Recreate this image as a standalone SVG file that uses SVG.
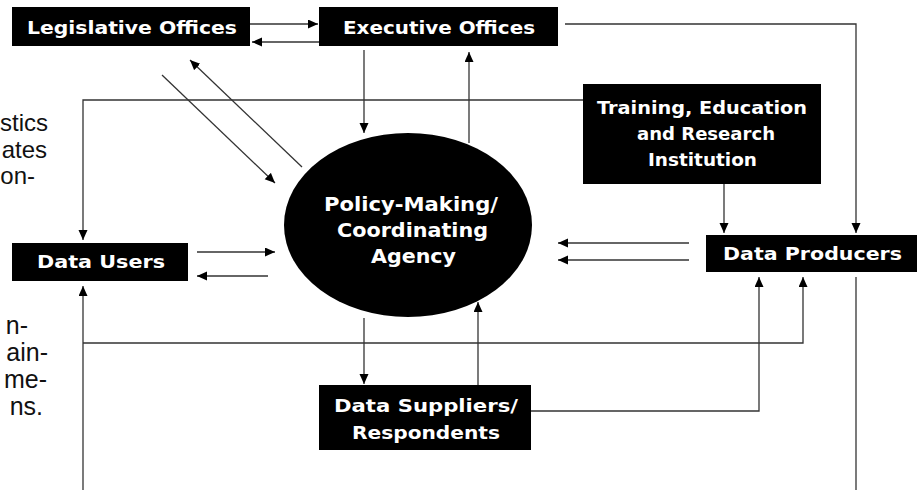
<svg xmlns="http://www.w3.org/2000/svg" width="922" height="490" viewBox="0 0 922 490">
<style>
.box{fill:#000}
.lbl{fill:#fff;font-family:"DejaVu Sans","Liberation Sans",sans-serif;font-weight:bold;text-anchor:middle}
.side{fill:#111;font-family:"Liberation Sans",Arial,sans-serif;font-size:24px;text-anchor:end}
.side2{fill:#111;font-family:"Liberation Sans",Arial,sans-serif;font-size:25px;text-anchor:end}
.c{fill:none;stroke:#333;stroke-width:1.3}
</style>
<defs>
<marker id="ah" markerUnits="userSpaceOnUse" markerWidth="11" markerHeight="10" refX="10" refY="4.5" orient="auto">
<path d="M0,0 L10,4.5 L0,9 z" fill="#000"/>
</marker>
</defs>
<rect width="922" height="490" fill="#fff"/>
<g id="side-text">
<text class="side" x="48" y="131">stics</text>
<text class="side" x="47" y="158">ates</text>
<text class="side" x="35" y="184">on-</text>
<text class="side2" x="28" y="334">n-</text>
<text class="side2" x="48" y="361">ain-</text>
<text class="side2" x="47" y="388">me-</text>
<text class="side2" x="43" y="415">ns.</text>
</g>
<g id="connectors">
<path class="c" d="M250,24 H318" marker-end="url(#ah)"/>
<path class="c" d="M319,42 H252" marker-end="url(#ah)"/>
<path class="c" d="M364,50 V133" marker-end="url(#ah)"/>
<path class="c" d="M469,143 V52" marker-end="url(#ah)"/>
<path class="c" d="M565,24 H856 V233" marker-end="url(#ah)"/>
<path class="c" d="M724,184 V233" marker-end="url(#ah)"/>
<path class="c" d="M583,100 H83 V240" marker-end="url(#ah)"/>
<path class="c" d="M162,75 L275,183" marker-end="url(#ah)"/>
<path class="c" d="M302,167 L190,60" marker-end="url(#ah)"/>
<path class="c" d="M197,252 H275" marker-end="url(#ah)"/>
<path class="c" d="M268,276 H197" marker-end="url(#ah)"/>
<path class="c" d="M689,243 H558" marker-end="url(#ah)"/>
<path class="c" d="M689,260 H558" marker-end="url(#ah)"/>
<path class="c" d="M364,318 V384" marker-end="url(#ah)"/>
<path class="c" d="M478,385 V302" marker-end="url(#ah)"/>
<path class="c" d="M83,490 V286" marker-end="url(#ah)"/>
<path class="c" d="M83,343 H803 V277" marker-end="url(#ah)"/>
<path class="c" d="M531,411 H759 V277" marker-end="url(#ah)"/>
<path class="c" d="M856,277 V490"/>
</g>
<g id="legislative">
<rect class="box" x="12" y="7" width="238" height="39"/>
<text class="lbl" x="132" y="34" font-size="17" textLength="210" lengthAdjust="spacingAndGlyphs">Legislative Offices</text>
</g>
<g id="executive">
<rect class="box" x="319" y="7" width="239" height="39"/>
<text class="lbl" x="439" y="34" font-size="17" textLength="192" lengthAdjust="spacingAndGlyphs">Executive Offices</text>
</g>
<g id="training">
<rect class="box" x="583" y="84" width="238" height="100"/>
<text class="lbl" x="702" y="114" font-size="18" textLength="210" lengthAdjust="spacingAndGlyphs">Training, Education</text>
<text class="lbl" x="706" y="140" font-size="18" textLength="138" lengthAdjust="spacingAndGlyphs">and Research</text>
<text class="lbl" x="702.5" y="166" font-size="18" textLength="109" lengthAdjust="spacingAndGlyphs">Institution</text>
</g>
<g id="data-users">
<rect class="box" x="12" y="243" width="176" height="38"/>
<text class="lbl" x="101" y="268" font-size="17" textLength="128" lengthAdjust="spacingAndGlyphs">Data Users</text>
</g>
<g id="data-producers">
<rect class="box" x="706" y="235" width="211" height="37"/>
<text class="lbl" x="812.5" y="260" font-size="17" textLength="179" lengthAdjust="spacingAndGlyphs">Data Producers</text>
</g>
<g id="agency">
<ellipse cx="408" cy="225" rx="124" ry="92" fill="#000"/>
<text class="lbl" x="411" y="211" font-size="19" textLength="174" lengthAdjust="spacingAndGlyphs">Policy-Making/</text>
<text class="lbl" x="412.5" y="237" font-size="19" textLength="151" lengthAdjust="spacingAndGlyphs">Coordinating</text>
<text class="lbl" x="413.5" y="263" font-size="19" textLength="85" lengthAdjust="spacingAndGlyphs">Agency</text>
</g>
<g id="data-suppliers">
<rect class="box" x="319" y="385" width="212" height="65"/>
<text class="lbl" x="426" y="412" font-size="18" textLength="184" lengthAdjust="spacingAndGlyphs">Data Suppliers/</text>
<text class="lbl" x="426" y="439" font-size="18" textLength="148" lengthAdjust="spacingAndGlyphs">Respondents</text>
</g>
</svg>
